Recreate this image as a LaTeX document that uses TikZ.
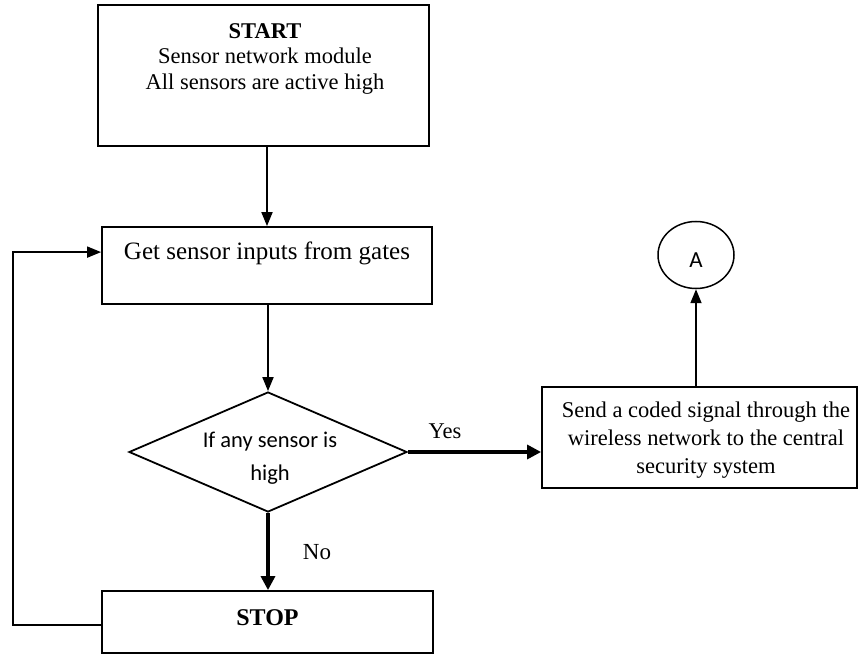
\documentclass[tikz,border=0pt]{standalone}
\usepackage{fontspec}
\setmainfont{Liberation Serif}
\newfontfamily\calibri{Carlito}
\usetikzlibrary{shapes.geometric,arrows.meta}

\begin{document}
\begin{tikzpicture}[x=1pt,y=-1pt,
  box/.style={draw,line width=1.8pt,inner sep=0pt},
  txt/.style={inner sep=0pt,align=center},
  flow/.style={line width=1.8pt,-{Triangle[length=14pt,width=11pt]}},
  boldflow/.style={line width=3.2pt,-{Triangle[length=14pt,width=14pt]}}]
  \useasboundingbox (0,0) rectangle (860,655);
  \node[box, minimum width=331pt, minimum height=141pt] (start) at (263.5,75.5) {};
  \node[txt, anchor=north, font=\fontsize{22.5}{25.5}\selectfont] (starttext) at (265,23)
    {\textbf{START}\\Sensor network module\\All sensors are active high};
  \node[box, minimum width=330pt, text height=33pt, text depth=44pt,
    font=\fontsize{25}{30}\selectfont] (get) at (267,265.5) {Get sensor inputs from gates};
  \node[draw, diamond, line width=1.8pt, inner sep=0pt,
    minimum width=278pt, minimum height=120pt] (test) at (268,452) {};
  \node[txt, anchor=north, font=\calibri\fontsize{22.5}{33}\selectfont] (testtext) at (270,432)
    {If any sensor is\\high};
  \node[box, minimum width=315pt, minimum height=101pt] (send) at (699.5,437.5) {};
  \node[txt, anchor=north, font=\fontsize{22.5}{28}\selectfont] (sendtext) at (706,402)
    {Send a coded signal through the\\wireless network to the central\\security system};
  \node[draw, ellipse, line width=1.5pt, inner sep=0pt, minimum width=76pt,
    minimum height=67pt, text height=25pt, font=\calibri\fontsize{23}{27}\selectfont] (a) at (696,255) {A};
  \node[box, minimum width=331pt, text height=34pt, text depth=28pt,
    font=\bfseries\fontsize{24}{28}\selectfont] (stop) at (267.5,622) {STOP};
  \node[txt, anchor=base, font=\fontsize{22.5}{27}\selectfont] (yes) at (445,438) {Yes};
  \node[txt, anchor=base, font=\fontsize{23}{27}\selectfont] (no) at (317,559) {No};
  \coordinate (loop) at (13,625);
  \draw[flow] (get.north |- start.south) -- (get.north);
  \draw[flow] (test.north |- get.south) -- (test.north);
  \draw[boldflow] (test.east) -- (send.west |- test.east);
  \draw[flow] (a.south |- send.north) -- (a.south);
  \draw[boldflow] (test.south) -- (stop.north -| test.south);
  \draw[flow] (stop.west |- loop) -- (loop) |- ([yshift=-26pt]get.north west);
\end{tikzpicture}
\end{document}
